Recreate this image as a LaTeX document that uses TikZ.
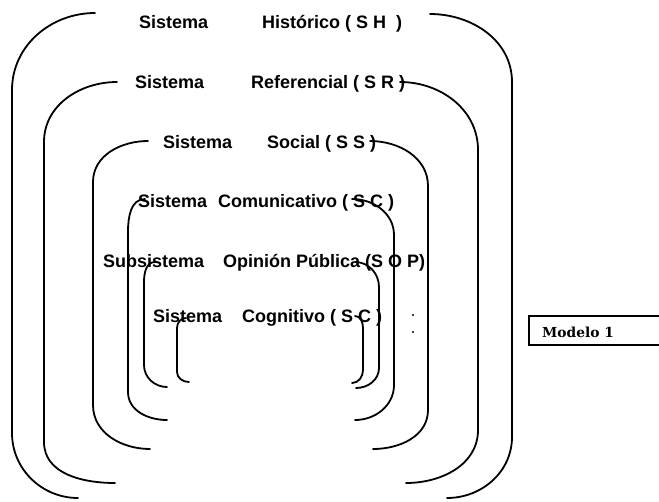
\documentclass[tikz,border=0pt]{standalone}
\usepackage{fontspec}
\setmainfont{Liberation Sans}
\newfontfamily\modfont{DejaVu Serif}
% left and right halves of one nested system:
% #1,#2 upper end, #3 vertical x, #4 top of vertical, #5 bottom of vertical, #6,#7 lower end
\newcommand{\sysleft}[7]{\draw[bracket] (#1,#2) to[out=180,in=90] (#3,#4) -- (#3,#5) to[out=-90,in=180] (#6,#7);}
\newcommand{\sysright}[7]{\draw[bracket] (#1,#2) to[out=0,in=90] (#3,#4) -- (#3,#5) to[out=-90,in=0] (#6,#7);}
\begin{document}
\begin{tikzpicture}[x=1pt,y=-1pt,
  bracket/.style={line width=1.8pt, line cap=round},
  lbl/.style={font=\fontsize{18}{20}\selectfont\bfseries, inner sep=0pt, anchor=base west},
  dotmark/.style={circle, fill, inner sep=0pt, minimum size=2.4pt},
  modelbox/.style={draw, line width=2pt, minimum height=29pt, minimum width=150pt,
    anchor=north west, inner sep=0pt},
  ]
\clip (0,0) rectangle (659,501);

% system names
\node[lbl] (sh1) at (139,28) {Sistema};
\node[lbl] (sh2) at (262,28) {Histórico ( S H \ )};
\node[lbl] (sr1) at (135,88) {Sistema};
\node[lbl] (sr2) at (251,88) {Referencial ( S R )};
\node[lbl] (ss1) at (163,148) {Sistema};
\node[lbl] (ss2) at (267,148) {Social ( S S )};
\node[lbl] (sc1) at (138,207) {Sistema};
\node[lbl] (sc2) at (218,207) {Comunicativo ( S C )};
\node[lbl] (sop1) at (103,267) {Subsistema};
\node[lbl] (sop2) at (223,267) {Opinión Pública (S O P)};
\node[lbl] (scg1) at (153,322) {Sistema};
\node[lbl] (scg2) at (242,322) {Cognitivo ( S C )};

% nested brackets, outermost first
\sysleft{95}{13}{12}{90}{433}{78}{498}
\sysright{430}{14}{512}{82}{437}{447}{498}
\sysleft{117}{82}{44}{142}{442}{115}{483}
\sysright{400}{82}{478}{150}{430}{406}{483}
\sysleft{148}{141}{93}{182}{405}{150}{449}
\sysright{370}{141}{428}{186}{410}{373}{449}
\sysleft{145}{199}{128}{232}{392}{167}{420}
\sysright{352}{199}{394}{235}{385}{355}{420}
\sysleft{155}{262}{144}{282}{365}{167}{387}
\sysright{355}{262}{379}{287}{368}{356}{388}
\sysleft{186}{318}{177}{328}{372}{189}{382}
\sysright{355}{316}{363}{328}{370}{352}{383}

% continuation dots
\node[dotmark] (d1) at (413,315) {};
\node[dotmark] (d2) at (413,332) {};

% model tag
\node[modelbox] (mbox) at (528,315) {};
\node[font=\modfont\bfseries\fontsize{13.8}{16}\selectfont, inner sep=0pt, anchor=base west]
  (mtext) at (542,337) {Modelo 1};
\end{tikzpicture}
\end{document}
